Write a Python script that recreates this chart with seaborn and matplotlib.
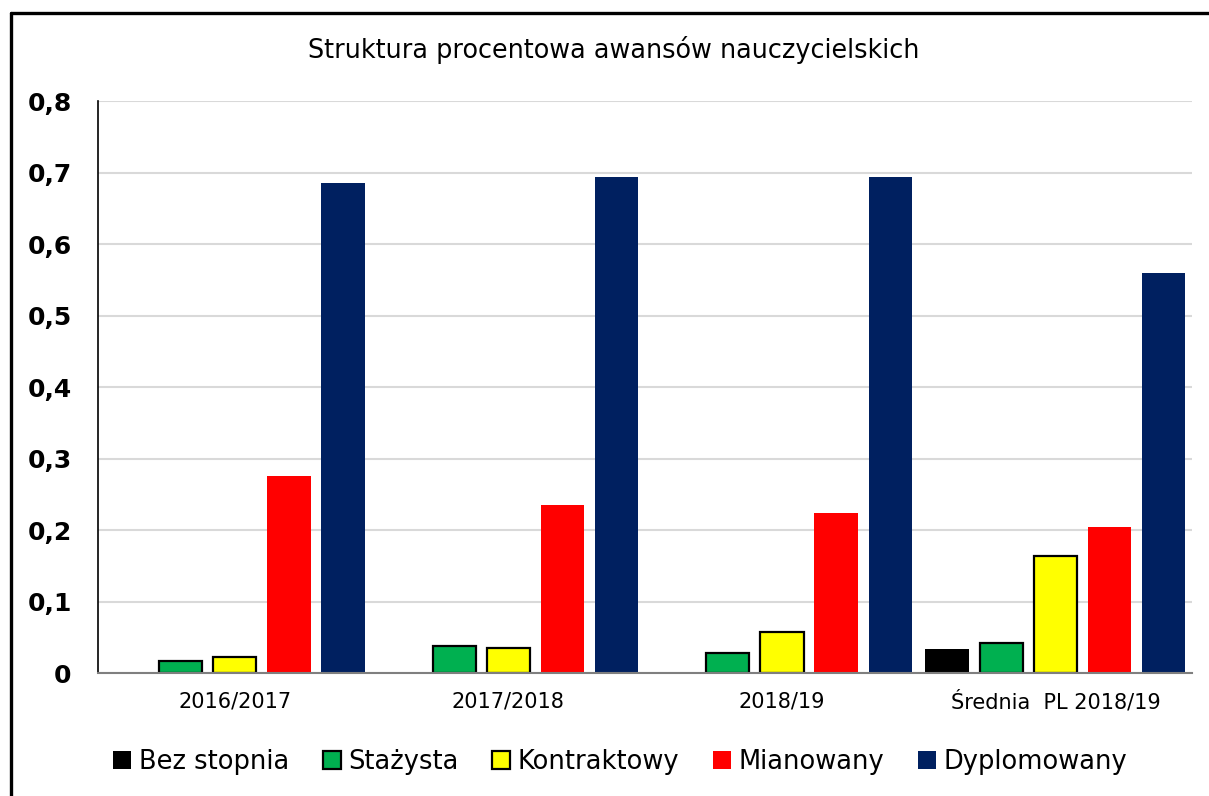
import matplotlib
matplotlib.use("Agg")
import matplotlib.pyplot as plt
from matplotlib.lines import Line2D
import seaborn as sns
import pandas as pd

sns.set_theme(style="white")
plt.rcParams['font.family'] = ['DejaVu Sans']
plt.rcParams['text.color'] = 'black'
plt.rcParams['xtick.color'] = 'black'
plt.rcParams['ytick.color'] = 'black'

# values
categories = ["2016/2017", "2017/2018", "2018/19", "Średnia  PL 2018/19"]
levels = ["Bez stopnia", "Stażysta", "Kontraktowy", "Mianowany", "Dyplomowany"]
bez_stopnia = [0.0, 0.0, 0.0, 0.034]
stazysta = [0.017, 0.038, 0.028, 0.042]
kontraktowy = [0.023, 0.035, 0.057, 0.164]
mianowany = [0.275, 0.235, 0.224, 0.204]
dyplomowany = [0.685, 0.694, 0.694, 0.560]
colors = ["#000000", "#00b050", "#ffff00", "#ff0000", "#002060"]
y_ticks = [0, 0.1, 0.2, 0.3, 0.4, 0.5, 0.6, 0.7, 0.8]

series = [bez_stopnia, stazysta, kontraktowy, mianowany, dyplomowany]
rows = []
for lvl, vals in zip(levels, series):
    for cat, v in zip(categories, vals):
        rows.append({"okres": cat, "stopien": lvl, "udzial": v})
df = pd.DataFrame(rows)

fig = plt.figure(figsize=(12.09, 7.96), dpi=100)
ax = fig.add_axes([0.0811, 0.1545, 0.905, 0.7185])

sns.barplot(data=df, x="okres", y="udzial", hue="stopien",
            order=categories, hue_order=levels, palette=colors,
            width=0.99, gap=0.2, saturation=1, legend=False, ax=ax)

# only the green and yellow bars have a black outline
for i, cont in enumerate(ax.containers):
    for p in cont.patches:
        if levels[i] in ("Stażysta", "Kontraktowy"):
            p.set_edgecolor("black")
            p.set_linewidth(1.6)
        else:
            p.set_linewidth(0)

ax.set_ylim(0, 0.8)
ax.set_xlim(-0.5, 3.5)
ax.set_yticks(y_ticks)
ax.set_yticklabels(["0" if t == 0 else f"{t:.1f}".replace(".", ",") for t in y_ticks],
                   fontsize=18, fontweight="bold")
ax.tick_params(axis="y", length=0, pad=19)
ax.tick_params(axis="x", length=0, pad=13, labelsize=15)
ax.set_xlabel("")
ax.set_ylabel("")
ax.yaxis.grid(True, color="#d9d9d9", linewidth=1.5)
ax.set_axisbelow(True)
for s in ["top", "right"]:
    ax.spines[s].set_visible(False)
ax.spines["left"].set_color("black")
ax.spines["left"].set_linewidth(1.2)
ax.spines["bottom"].set_color("#7f7f7f")
ax.spines["bottom"].set_linewidth(1.5)

fig.text(0.508, 0.937, "Struktura procentowa awansów nauczycielskich",
         ha="center", va="center", fontsize=18.4)

ax.legend(ax.containers, levels, loc="center", bbox_to_anchor=(0.513, 0.043),
          bbox_transform=fig.transFigure, ncol=5, frameon=False, fontsize=18.5,
          handlelength=0.7, handleheight=0.7, handletextpad=0.3, columnspacing=1.3)

# outer frame, cut by the image edges on the right and bottom
x0, y0 = 10.5 / 1209, 1 - 13 / 796
fig.add_artist(Line2D([x0, x0], [-0.05, y0], color="black", linewidth=2.4))
fig.add_artist(Line2D([x0, 1.05], [y0, y0], color="black", linewidth=2.4))

plt.savefig("out.png", dpi=100)
